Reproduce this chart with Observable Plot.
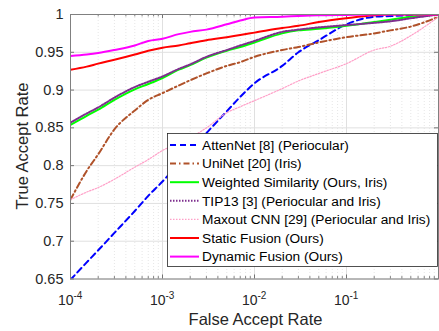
<!DOCTYPE html>
<html>
<head>
<meta charset="utf-8">
<script src="https://cdn.jsdelivr.net/npm/d3@7"></script>
<script src="https://cdn.jsdelivr.net/npm/@observablehq/plot@0.6"></script>
<style>
  html, body { margin: 0; padding: 0; background: #fff; }
  svg { display: block; }
</style>
</head>
<body>
<div id="chart"></div>
<script>
// False accept rate grid (shared by all series)
const far = [1e-4, 1.5e-4, 2e-4, 3e-4, 5e-4, 7e-4, 1e-3, 1.5e-3, 2e-3, 3e-3, 5e-3, 7e-3, 1e-2, 2e-2, 3e-2, 5e-2, 1e-1, 2e-1, 3e-1, 5e-1, 1];

const seriesNames = [
  "AttenNet [8] (Periocular)",
  "UniNet [20] (Iris)",
  "Weighted Similarity (Ours, Iris)",
  "TIP13 [3] (Periocular and Iris)",
  "Maxout CNN [29] (Periocular and Iris)",
  "Static Fusion (Ours)",
  "Dynamic Fusion (Ours)"
];

const attenNet   = [0.649, 0.672, 0.688, 0.711, 0.740, 0.760, 0.779, 0.803, 0.819, 0.843, 0.872, 0.891, 0.909, 0.932, 0.950, 0.966, 0.987, 0.997, 0.998, 0.999, 1.000];
const uniNet     = [0.755, 0.793, 0.815, 0.848, 0.873, 0.887, 0.896, 0.906, 0.913, 0.922, 0.932, 0.937, 0.944, 0.953, 0.957, 0.963, 0.970, 0.975, 0.979, 0.984, 0.997];
const weighted   = [0.854, 0.866, 0.874, 0.887, 0.901, 0.908, 0.916, 0.927, 0.933, 0.943, 0.952, 0.957, 0.963, 0.975, 0.979, 0.981, 0.985, 0.990, 0.993, 0.997, 1.000];
const tip13      = [0.857, 0.869, 0.877, 0.890, 0.904, 0.911, 0.918, 0.928, 0.934, 0.944, 0.953, 0.959, 0.965, 0.977, 0.980, 0.983, 0.986, 0.989, 0.991, 0.995, 1.000];
const maxoutCNN  = [0.755, 0.765, 0.771, 0.782, 0.798, 0.808, 0.820, 0.830, 0.837, 0.850, 0.870, 0.878, 0.886, 0.902, 0.912, 0.922, 0.935, 0.953, 0.958, 0.972, 0.997];
const staticFus  = [0.927, 0.931, 0.935, 0.940, 0.947, 0.952, 0.956, 0.959, 0.962, 0.966, 0.970, 0.973, 0.976, 0.982, 0.985, 0.990, 0.995, 0.999, 1.000, 1.000, 1.000];
const dynamicFus = [0.945, 0.947, 0.949, 0.953, 0.959, 0.965, 0.968, 0.974, 0.977, 0.980, 0.987, 0.992, 0.996, 0.997, 0.998, 0.999, 0.9995, 1.000, 1.000, 1.000, 1.000];

const seriesValues = [attenNet, uniNet, weighted, tip13, maxoutCNN, staticFus, dynamicFus];
const seriesColors = ["#0000ff", "#b0522a", "#00ff00", "#7e2f8e", "#ffa0c8", "#ff0000", "#ff00ff"];
const seriesDash   = ["6,4", "6,3,1.5,3", null, "1.5,1.5", "1.5,1.5", null, null];
const seriesWidth  = [2, 2, 2, 2, 1.2, 2, 2];

const xTicks = [1e-4, 1e-3, 1e-2, 1e-1];
const xTickExp = ["-4", "-3", "-2", "-1"];
const yTicks = [0.65, 0.7, 0.75, 0.8, 0.85, 0.9, 0.95, 1];
const xDomain = [1e-4, 1];
const yDomain = [0.65, 1];
const xLabel = "False Accept Rate";
const yLabel = "True Accept Rate";

// minor log ticks
const xMinor = [];
for (let e = -4; e < 0; e++) for (let m = 2; m <= 9; m++) xMinor.push(m * Math.pow(10, e));

const rows = [];
seriesNames.forEach((name, i) => {
  far.forEach((f, j) => rows.push({series: name, i, far: f, tar: seriesValues[i][j]}));
});

const W = 439, H = 331;
const mL = 70, mR = 1, mT = 14, mB = 52.5;
const font = "Arial, 'Liberation Sans', Helvetica, sans-serif";
const ink = "#262626";

const tickLen = 4 * (yDomain[1] - yDomain[0]) / (H - mT - mB);
const tickLenX = 4 * Math.log10(xDomain[1] / xDomain[0]) / (W - mL - mR);

const marks = [
  // grid
  Plot.ruleX(xMinor, {stroke: "#e6e6e6", strokeDasharray: "1,2", strokeWidth: 1}),
  Plot.ruleX(xTicks, {stroke: "#e0e0e0", strokeWidth: 1}),
  Plot.ruleY(yTicks, {stroke: "#e0e0e0", strokeWidth: 1}),
  // inward ticks: bottom and top
  Plot.ruleX(xTicks.concat(xMinor), {y1: yDomain[0], y2: d => yDomain[0] + tickLen * (xTicks.includes(d) ? 1 : 0.6), stroke: ink, strokeWidth: 0.6}),
  Plot.ruleX(xTicks.concat(xMinor), {y1: yDomain[1], y2: d => yDomain[1] - tickLen * (xTicks.includes(d) ? 1 : 0.6), stroke: ink, strokeWidth: 0.6}),
  Plot.ruleY(yTicks, {x1: xDomain[0], x2: xDomain[0] * Math.pow(10, tickLenX), stroke: ink, strokeWidth: 0.6}),
  Plot.ruleY(yTicks, {x1: xDomain[1], x2: xDomain[1] / Math.pow(10, tickLenX), stroke: ink, strokeWidth: 0.6}),
  // lines
  ...seriesNames.map((name, i) => Plot.line(rows.filter(r => r.i === i), {
    x: "far", y: "tar",
    stroke: seriesColors[i], strokeWidth: seriesWidth[i],
    strokeDasharray: seriesDash[i] || undefined,
    curve: "monotone-x", clip: true
  })),
  // y tick labels
  Plot.text(yTicks, {y: d => d, frameAnchor: "left", dx: -7, textAnchor: "end", text: d => String(d), fontSize: 14.5, fill: ink}),
  // x tick labels: base and exponent
  Plot.text(xTicks, {x: d => d, frameAnchor: "bottom", dy: 26, dx: 3, textAnchor: "end", lineAnchor: "bottom", text: () => "10", fontSize: 14, fill: ink}),
  Plot.text(xTicks, {x: d => d, frameAnchor: "bottom", dy: 20, dx: 3, textAnchor: "start", lineAnchor: "bottom", text: (d, k) => xTickExp[k], fontSize: 10, fill: ink}),
  Plot.frame({stroke: "#808080", strokeWidth: 1})
];

const plot = Plot.plot({
  width: W, height: H,
  marginLeft: mL, marginRight: mR, marginTop: mT, marginBottom: mB,
  style: {fontFamily: font, background: "#fff", overflow: "visible"},
  x: {type: "log", domain: xDomain, axis: null},
  y: {domain: yDomain, axis: null},
  marks
});

const svg = d3.select(plot);

// axis labels
svg.append("text")
  .attr("x", 255.5).attr("y", 325)
  .attr("text-anchor", "middle")
  .attr("font-family", font).attr("font-size", 16.5).attr("fill", ink)
  .text(xLabel);
svg.append("text")
  .attr("transform", `translate(28,146) rotate(-90)`)
  .attr("text-anchor", "middle")
  .attr("font-family", font).attr("font-size", 16.5).attr("fill", ink)
  .text(yLabel);

// legend
const lg = svg.append("g").attr("font-family", font).attr("font-size", 13.7).attr("fill", "#000").attr("text-anchor", "start");
const lx = 167.5, ly = 133.5, lw = 270, lh = 133;
lg.append("rect").attr("x", lx).attr("y", ly).attr("width", lw).attr("height", lh)
  .attr("fill", "#ffffff").attr("fill-opacity", 1).attr("stroke", ink).attr("stroke-width", 0.8);
seriesNames.forEach((name, i) => {
  const cy = 145 + i * 18.6;
  lg.append("line").attr("x1", 170).attr("x2", 199).attr("y1", cy).attr("y2", cy)
    .attr("stroke", seriesColors[i]).attr("stroke-width", seriesWidth[i])
    .attr("stroke-dasharray", seriesDash[i]);
  lg.append("text").attr("x", 202).attr("y", cy).attr("dy", "0.35em").attr("text-anchor", "start").text(name);
});

document.getElementById("chart").appendChild(plot);
</script>
</body>
</html>
